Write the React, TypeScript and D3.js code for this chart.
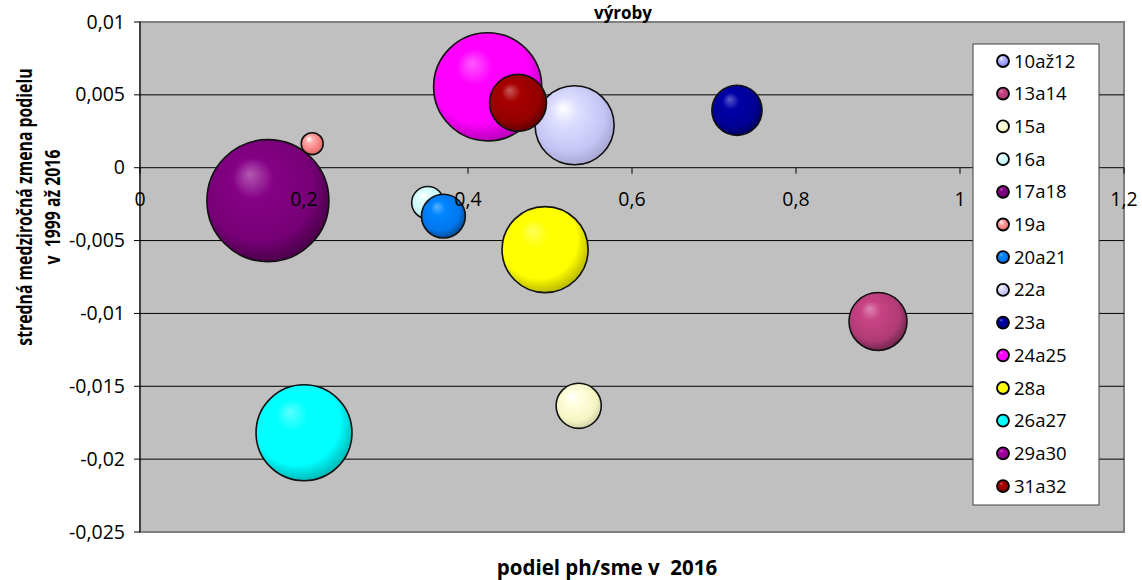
import React from 'react';
import * as d3 from 'd3';

const W = 1142;
const H = 580;

// Legend series (all categories)
const legendNames = ['10až12', '13a14', '15a', '16a', '17a18', '19a', '20a21', '22a', '23a', '24a25', '28a', '26a27', '29a30', '31a32'];
const legendColors = ['#9999FF', '#993366', '#FFFFCC', '#CCFFFF', '#660066', '#FF8080', '#0066CC', '#CCCCFF', '#000080', '#FF00FF', '#FFFF00', '#00FFFF', '#800080', '#800000'];

// Visible bubbles (in drawing order)
const bubbleNames = ['13a14', '15a', '16a', '17a18', '19a', '20a21', '22a', '23a', '24a25', '28a', '26a27', '31a32'];
const xValues = [0.900, 0.535, 0.351, 0.156, 0.210, 0.370, 0.530, 0.728, 0.424, 0.494, 0.200, 0.461];
const yValues = [-0.01055, -0.01634, -0.0024, -0.00226, 0.00165, -0.00332, 0.00291, 0.00394, 0.00555, -0.00562, -0.01819, 0.00445];
const sizes = [8.4, 5.1, 2.6, 37.2, 1.2, 4.8, 15.6, 6.3, 29.2, 18.5, 23.0, 8.1];

const xTicks = [0, 0.2, 0.4, 0.6, 0.8, 1, 1.2];
const yTicks = [0.01, 0.005, 0, -0.005, -0.01, -0.015, -0.02, -0.025];

const titleText = 'výroby';
const xTitle = 'podiel ph/sme v  2016';
const yTitle1 = 'stredná medziročná zmena podielu';
const yTitle2 = 'v  1999 až 2016';

const FONT = "'Open Sans', 'Noto Sans', sans-serif";

function fmt(v: number): string {
  return String(v).replace('.', ',');
}

export default function App() {
  const left = 140, right = 1124, top = 22, bottom = 532;
  const x = d3.scaleLinear().domain([0, 1.2]).range([left, right]);
  const y = d3.scaleLinear().domain([-0.025, 0.01]).range([bottom, top]);
  const r = d3.scaleSqrt().domain([0, 37.2]).range([0, 61]);

  const gradStops = (c: string) => {
    const base = d3.color(c)!;
    const l = d3.hsl(c).l;
    const light = l > 0.75;
    const body = light ? d3.interpolateRgb(c, '#000')(0.04) : base.brighter(0.4).formatHex();
    const mid = light ? d3.interpolateRgb(c, '#fff')(0.35) : base.brighter(0.75).formatHex();
    const hi = light ? '#ffffff' : d3.interpolateRgb(base.brighter(0.8).formatHex(), '#ffffff')(0.35);
    const dark = base.darker(light ? 0.6 : 1.0).formatHex();
    return [
      { o: '0%', c: hi },
      { o: '28%', c: mid },
      { o: '75%', c: body },
      { o: '100%', c: dark },
    ];
  };

  const legX = 973, legY = 44, legW = 126, legH = 461;
  const legStep = 32.7;
  const legFirst = 61;

  return (
    <svg width={W} height={H} style={{ position: 'absolute', left: 0, top: 0, background: '#fff' }} fontFamily={FONT}>
      <defs>
        {legendColors.map((c, i) => (
          <radialGradient key={i} id={`g${i}`} cx="45%" cy="42%" r="60%" fx="35%" fy="28%">
            {gradStops(c).map((s, j) => <stop key={j} offset={s.o} stopColor={s.c} />)}
          </radialGradient>
        ))}
      </defs>
      <rect x={0} y={0} width={W} height={H} fill="#fff" />
      {/* plot area */}
      <rect x={left} y={top} width={right - left} height={bottom - top} fill="#C0C0C0" stroke="#808080" strokeWidth={2} />
      {/* gridlines */}
      {yTicks.filter(t => t !== 0.01 && t !== -0.025).map(t => (
        <line key={t} x1={left} x2={right} y1={y(t)} y2={y(t)} stroke="#000" strokeWidth={1} />
      ))}
      {/* y axis */}
      <line x1={left} x2={left} y1={top} y2={bottom} stroke="#000" strokeWidth={1} />
      {yTicks.map(t => (
        <line key={'yt' + t} x1={left - 6} x2={left} y1={y(t)} y2={y(t)} stroke="#000" />
      ))}
      {/* x axis ticks */}
      {xTicks.map(t => (
        <line key={'xt' + t} x1={x(t)} x2={x(t)} y1={y(0)} y2={y(0) + 6} stroke="#000" />
      ))}
      {/* bubbles */}
      {bubbleNames.map((n, i) => (
        <circle key={n} cx={x(xValues[i])} cy={y(yValues[i])} r={r(sizes[i])}
          fill={`url(#g${legendNames.indexOf(n)})`} stroke="#111" strokeWidth={1.6} />
      ))}
      {/* x tick labels */}
      {xTicks.map(t => (
        <text key={'xl' + t} x={x(t)} y={y(0) + 38} textAnchor="middle" fontSize={19.5} fill="#000">{fmt(t)}</text>
      ))}
      {/* y tick labels */}
      {yTicks.map(t => (
        <text key={'yl' + t} x={left - 15} y={y(t) + 6.5} textAnchor="end" fontSize={19.5} fill="#000">{fmt(t)}</text>
      ))}
      {/* legend */}
      <rect x={legX} y={legY} width={legW} height={legH} fill="#fff" stroke="#404040" strokeWidth={1} />
      {legendNames.map((n, i) => (
        <g key={'lg' + n}>
          <circle cx={1003} cy={legFirst + i * legStep} r={6} fill={`url(#g${i})`} stroke="#000" strokeWidth={1.8} />
          <text x={1014} y={legFirst + i * legStep + 6.5} fontSize={18.5} fill="#000">{n}</text>
        </g>
      ))}
      {/* titles */}
      <text x={623} y={18.5} textAnchor="middle" fontSize={17} fontWeight="bold" fill="#000">{titleText}</text>
      <text x={607} y={575} textAnchor="middle" fontSize={20.5} fontWeight="bold" fill="#000" style={{ whiteSpace: 'pre' }}>{xTitle}</text>
      <text transform={`translate(32,207) rotate(-90) scale(1,1.3)`} textAnchor="middle" fontSize={15.8} fontWeight="bold" fill="#000">{yTitle1}</text>
      <text transform={`translate(60,207) rotate(-90) scale(1,1.3)`} textAnchor="middle" fontSize={15.8} fontWeight="bold" fill="#000" style={{ whiteSpace: 'pre' }}>{yTitle2}</text>
    </svg>
  );
}
